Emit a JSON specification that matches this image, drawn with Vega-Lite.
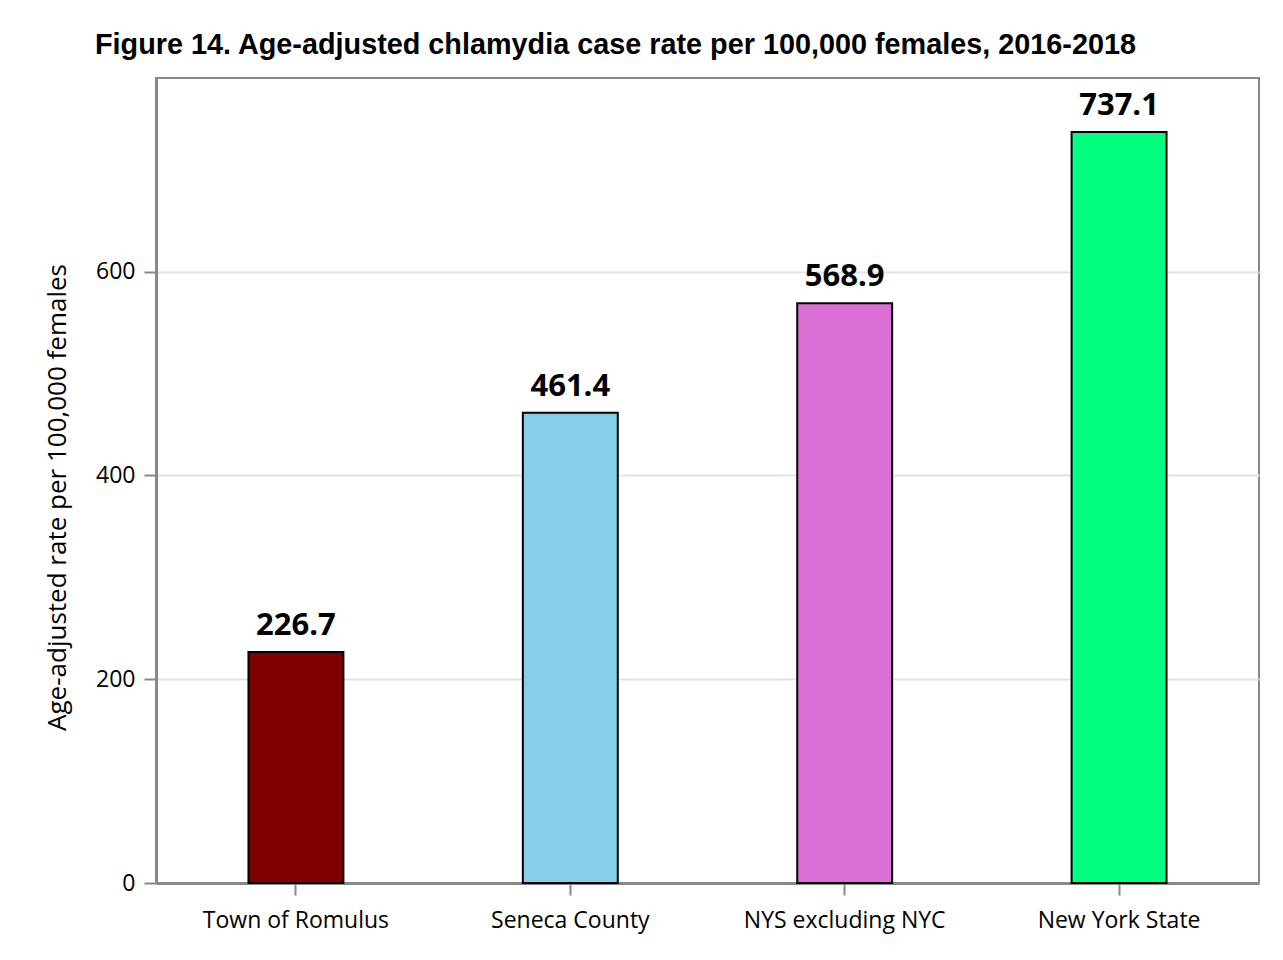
{
  "$schema": "https://vega.github.io/schema/vega-lite/v6.json",
  "autosize": "none",
  "width": 1103,
  "height": 805,
  "padding": {"left": 156, "top": 78, "right": 24, "bottom": 77},
  "background": "white",
  "title": {
    "text": "Figure 14. Age-adjusted chlamydia case rate per 100,000 females, 2016-2018",
    "anchor": "start",
    "frame": "group",
    "dx": -61,
    "offset": -5,
    "baseline": "alphabetic",
    "font": "Liberation Sans",
    "fontSize": 28.8,
    "fontWeight": "bold",
    "color": "black"
  },
  "config": {
    "view": {"stroke": "#888888", "strokeWidth": 2},
    "axis": {
      "labelFont": "Open Sans",
      "titleFont": "Open Sans",
      "labelColor": "black",
      "titleColor": "black",
      "domainColor": "#888888",
      "domainWidth": 3,
      "tickColor": "#888888",
      "tickWidth": 2
    }
  },
  "data": {
    "values": [
      {"area": "Town of Romulus", "rate": 226.7},
      {"area": "Seneca County", "rate": 461.4},
      {"area": "NYS excluding NYC", "rate": 568.9},
      {"area": "New York State", "rate": 737.1}
    ]
  },
  "encoding": {
    "x": {
      "field": "area",
      "type": "nominal",
      "sort": null,
      "scale": {"paddingInner": 0, "paddingOuter": 0.01},
      "axis": {
        "title": null,
        "labelAngle": 0,
        "labelFontSize": 23,
        "labelLimit": 0,
        "tickSize": 12,
        "labelPadding": 14
      }
    },
    "y": {
      "field": "rate",
      "type": "quantitative",
      "scale": {"domain": [0, 790], "nice": false},
      "axis": {
        "title": "Age-adjusted rate per 100,000 females",
        "titleFontSize": 26,
        "titleFontWeight": "normal",
        "values": [0, 200, 400, 600],
        "labelFontSize": 23,
        "tickSize": 12,
        "labelPadding": 9,
        "gridColor": "#e3e3e3",
        "gridWidth": 2,
        "titleX": -86,
        "titleY": 419,
        "titleAlign": "center"
      }
    }
  },
  "layer": [
    {
      "mark": {"type": "bar", "width": {"band": 0.346}, "stroke": "black", "strokeWidth": 2},
      "encoding": {
        "color": {
          "field": "area",
          "type": "nominal",
          "sort": null,
          "scale": {
            "domain": ["Town of Romulus", "Seneca County", "NYS excluding NYC", "New York State"],
            "range": ["#800000", "#87CEEB", "#DA70D6", "#00FF7F"]
          },
          "legend": null
        }
      }
    },
    {
      "mark": {"type": "text", "baseline": "alphabetic", "dy": -17, "font": "Open Sans", "fontWeight": "bold", "fontSize": 31, "color": "black"},
      "encoding": {
        "text": {"field": "rate", "type": "quantitative", "format": ".1f"}
      }
    }
  ]
}
